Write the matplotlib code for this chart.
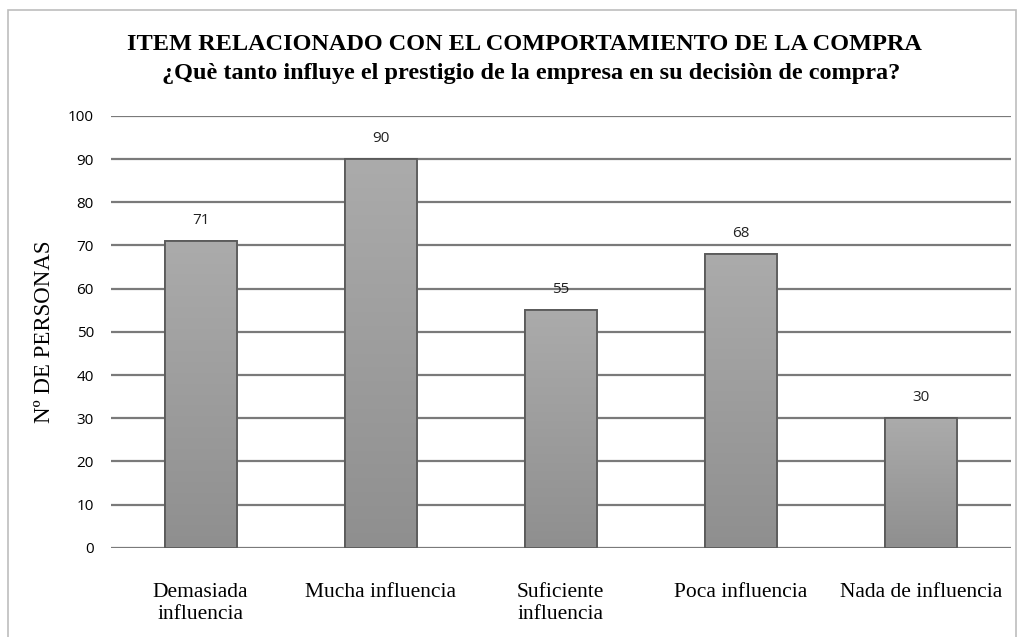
import matplotlib.pyplot as plt
import numpy as np
from matplotlib.patches import Rectangle
from matplotlib.colors import LinearSegmentedColormap

categorias = ["Demasiada\ninfluencia", "Mucha influencia", "Suficiente\ninfluencia",
              "Poca influencia", "Nada de influencia"]
personas = [71, 90, 55, 68, 30]
y_ticks = list(range(0, 101, 10))

fig = plt.figure(figsize=(10.24, 6.37), dpi=100)
ax = fig.add_axes([0.108, 0.140, 0.879, 0.678])

# thin frame around the whole picture
fig.patches.append(Rectangle((0.008, -0.01), 0.984, 0.995, transform=fig.transFigure,
                             fill=False, edgecolor="#bdbdbd", lw=1.2))

ax.set_axisbelow(True)
ax.yaxis.grid(True, color="#7a7a7a", lw=1.6)
x = np.arange(len(categorias))
bars = ax.bar(x, personas, width=0.4, color="#a0a0a0", edgecolor="#5e5e5e", lw=1.2, zorder=2)

# subtle vertical gray gradient inside each bar (darker at the bottom)
grises = LinearSegmentedColormap.from_list("grises", ["#8f8f8f", "#ababab"])
grad = np.linspace(0, 1, 256).reshape(-1, 1)
for b in bars:
    x0, y0 = b.get_x(), b.get_y()
    im = ax.imshow(grad, cmap=grises, origin="lower", aspect="auto",
                   extent=(x0, x0 + b.get_width(), y0, y0 + b.get_height()), zorder=2.5)
    im.set_clip_path(b)
    ax.add_patch(Rectangle((x0, y0), b.get_width(), b.get_height(), fill=False,
                           edgecolor="#5a5a5a", lw=1.3, zorder=3))

for xi, v in zip(x, personas):
    ax.text(xi, v + 3, str(v), ha="center", va="bottom", fontsize=11,
            family="Open Sans", color="#222222")

ax.set_xlim(-0.5, len(categorias) - 0.5)
ax.set_ylim(0, 100)
ax.set_yticks(y_ticks)
ax.set_yticklabels([str(t) for t in y_ticks], family="Open Sans", fontsize=11)
ax.set_xticks(x)
ax.set_xticklabels(categorias, family="Liberation Serif", fontsize=15.5, linespacing=1.25)
ax.tick_params(length=0)
ax.tick_params(axis="y", pad=12)
ax.tick_params(axis="x", pad=25)
for s in ax.spines.values():
    s.set_visible(False)

ax.set_ylabel("Nº DE PERSONAS", family="Liberation Serif", fontsize=16.5)
ax.yaxis.set_label_coords(-0.062, 0.5)

fig.text(0.512, 0.930, "ITEM RELACIONADO CON EL COMPORTAMIENTO DE LA COMPRA",
         ha="center", va="center", family="Liberation Serif", weight="bold", fontsize=17.5)
fig.text(0.519, 0.885, "¿Què tanto influye el prestigio de la empresa en su decisiòn de compra?",
         ha="center", va="center", family="Liberation Serif", weight="bold", fontsize=17.5)

fig.savefig("out.png", dpi=100, facecolor="white")
